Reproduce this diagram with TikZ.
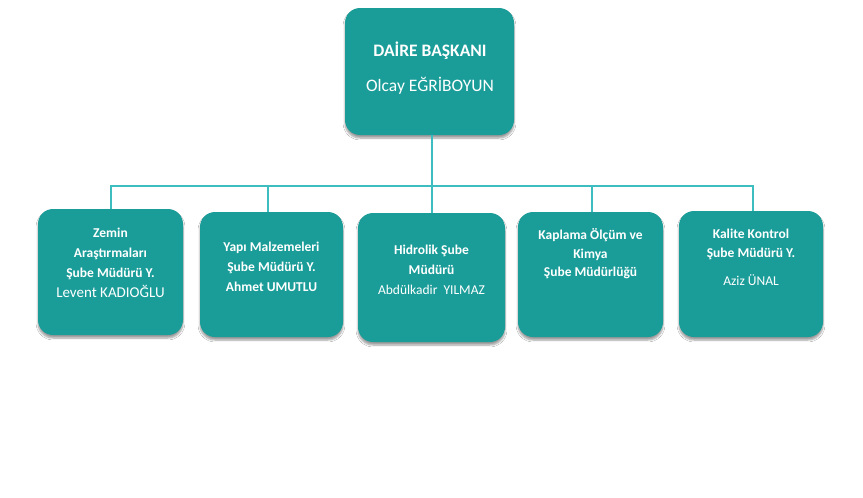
\documentclass[tikz,border=0pt]{standalone}
\usepackage{fontspec}
\setmainfont{Carlito}
\usetikzlibrary{shadows.blur}
\definecolor{boxteal}{HTML}{1A9D99}
\definecolor{lineteal}{HTML}{3DBDBF}
\tikzset{
  orgbox/.style={draw=none, fill=boxteal, rounded corners=15pt, inner sep=0pt,
    blur shadow={shadow blur steps=6, shadow xshift=0pt, shadow yshift=-3pt, shadow opacity=40}},
  conn/.style={draw=lineteal, line width=2pt},
  lbl/.style={text=white, align=center, inner sep=0pt},
  small/.style={lbl, font=\fontsize{13.5}{20}\selectfont},
}
\begin{document}
\begin{tikzpicture}[x=1pt,y=-1pt]
\useasboundingbox[fill=white] (0,0) rectangle (863,498);
% boxes
\node[orgbox, minimum width=169pt, minimum height=127pt] (top) at (429.5,71.5) {};
\node[orgbox, minimum width=145pt, minimum height=126pt] (b1) at (110.5,272) {};
\node[orgbox, minimum width=143pt, minimum height=125pt] (b2) at (271.5,274.5) {};
\node[orgbox, minimum width=147pt, minimum height=129pt] (b3) at (431.5,277.5) {};
\node[orgbox, minimum width=145pt, minimum height=125pt] (b4) at (590.5,274.5) {};
\node[orgbox, minimum width=144pt, minimum height=126pt] (b5) at (751,274) {};
% connectors
\coordinate (bus) at (0,186);
\draw[conn] ([xshift=2pt]top.south) -- ([xshift=2pt]top.south |- bus);
\draw[conn] (b1.north) -- (b1.north |- bus) -| ([xshift=2pt]b5.north);
\draw[conn] ([xshift=-3.5pt]b2.north |- bus) -- ([xshift=-3.5pt]b2.north);
\draw[conn] (b3.north |- bus) -- (b3.north);
\draw[conn] ([xshift=1.5pt]b4.north |- bus) -- ([xshift=1.5pt]b4.north);
% labels
\node[lbl, font=\fontsize{17.5}{35}\selectfont] (ttop) at (430,68) {\textbf{DAİRE BAŞKANI}\\Olcay EĞRİBOYUN};
\node[small] (t1) at (110.5,263) {\textbf{Zemin}\\\textbf{Araştırmaları}\\\textbf{Şube Müdürü Y.}\\{\fontsize{15}{20}\selectfont Levent KADIOĞLU}};
\node[small] (t2) at (271.5,267) {\textbf{Yapı Malzemeleri}\\\textbf{Şube Müdürü Y.}\\\textbf{Ahmet UMUTLU}};
\node[small] (t3) at (431.5,270) {\textbf{Hidrolik Şube}\\\textbf{Müdürü}\\Abdülkadir\ \ YILMAZ};
\node[lbl, font=\fontsize{13.5}{18.5}\selectfont] (t4) at (590.5,254) {\textbf{Kaplama Ölçüm ve}\\\textbf{Kimya}\\\textbf{Şube Müdürlüğü}};
\node[lbl, font=\fontsize{13.5}{19}\selectfont] (t5) at (751,257) {\textbf{Kalite Kontrol}\\\textbf{Şube Müdürü Y.}\\[9pt]Aziz ÜNAL};
\end{tikzpicture}
\end{document}
